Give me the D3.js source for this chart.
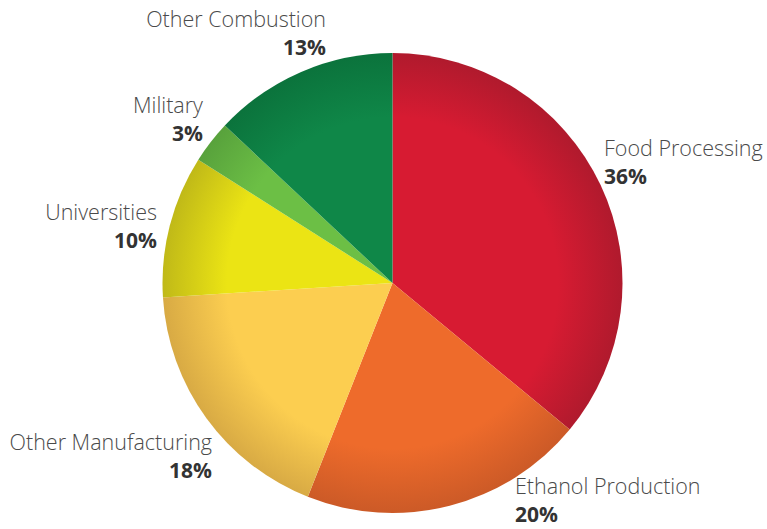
<!DOCTYPE html>
<html><head><meta charset="utf-8">
<script src="https://cdn.jsdelivr.net/npm/d3@7"></script>
<style>body{margin:0;background:#fff}svg{display:block}</style>
</head><body>
<svg id="c" width="767" height="529"></svg>
<script>
const categories = ["Food Processing","Ethanol Production","Other Manufacturing","Universities","Military","Other Combustion"];
const values = [36, 20, 18, 10, 3, 13];
const valueLabels = ["36%","20%","18%","10%","3%","13%"];

// styling / layout (kept separate from data)
const baseColors = ["#d71b32","#ee6b2b","#fcce50","#ebe414","#6cbf45","#0f8748"];
const edgeColors = ["#b01a2d","#cc5a27","#d8aa44","#c0b918","#58a23c","#0b733c"];
const labelLayout = [
  {x:604, y:156, anchor:"start"},
  {x:515, y:494, anchor:"start"},
  {x:212, y:450, anchor:"end"},
  {x:157, y:220, anchor:"end"},
  {x:203, y:113, anchor:"end"},
  {x:326, y:27,  anchor:"end"}
];

const cx = 392.5, cy = 283, R = 230;
const svg = d3.select("#c");
const defs = svg.append("defs");
baseColors.forEach((c,i)=>{
  const g = defs.append("radialGradient").attr("id","g"+i)
    .attr("gradientUnits","userSpaceOnUse").attr("cx",0).attr("cy",0).attr("r",R);
  g.append("stop").attr("offset","0%").attr("stop-color",c);
  g.append("stop").attr("offset","72%").attr("stop-color",c);
  g.append("stop").attr("offset","100%").attr("stop-color",edgeColors[i]);
});

const pie = d3.pie().sort(null).value(d=>d);
const arc = d3.arc().innerRadius(0).outerRadius(R);
const arcs = pie(values);

svg.append("g").attr("transform",`translate(${cx},${cy})`)
  .selectAll("path").data(arcs).join("path")
  .attr("d",arc)
  .attr("fill",(d,i)=>`url(#g${i})`);

const lg = svg.append("g");
arcs.forEach((a,i)=>{
  const L = labelLayout[i];
  lg.append("text").attr("x",L.x).attr("y",L.y).attr("text-anchor",L.anchor)
    .attr("font-family","'Open Sans', sans-serif").attr("font-weight",300)
    .attr("font-size",21.5).attr("fill","#4a4a4a").text(categories[i]);
  lg.append("text").attr("x",L.x).attr("y",L.y+28).attr("text-anchor",L.anchor)
    .attr("font-family","'Open Sans', sans-serif").attr("font-weight",700)
    .attr("font-size",21).attr("fill","#333").text(valueLabels[i]);
});
</script>
</body></html>
